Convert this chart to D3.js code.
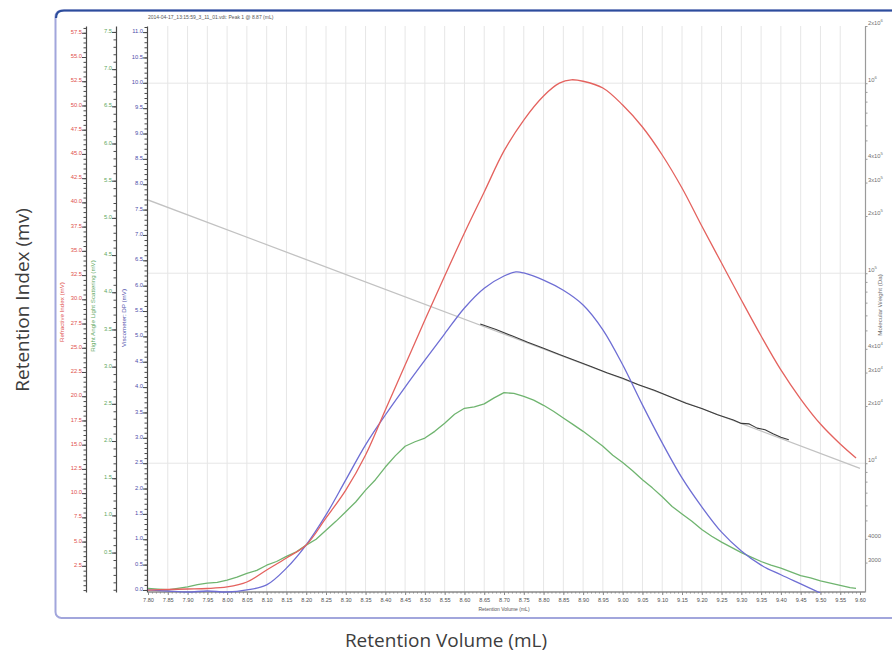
<!DOCTYPE html>
<html>
<head>
<meta charset="utf-8">
<script src="https://cdn.jsdelivr.net/npm/d3@7"></script>
<style>
  body { margin: 0; background: #ffffff; }
  svg { display: block; }
</style>
</head>
<body>
<svg id="chart" width="892" height="657"></svg>
<script>
// ---- Detector traces (retention volume in mL) ----
const riVolume = [7.80, 7.85, 7.90, 7.95, 8.00, 8.05, 8.10, 8.15, 8.20, 8.25, 8.30, 8.35, 8.40, 8.45, 8.50, 8.55, 8.60, 8.65, 8.70, 8.75, 8.80, 8.84, 8.87, 8.90, 8.95, 9.00, 9.05, 9.10, 9.15, 9.20, 9.25, 9.30, 9.35, 9.40, 9.45, 9.50, 9.55, 9.59];
const riSignal = [0.00, 0.06, 0.11, 0.16, 0.32, 0.83, 2.07, 3.31, 4.65, 7.44, 10.32, 13.94, 18.58, 23.22, 27.86, 32.40, 36.84, 41.08, 45.31, 48.50, 50.98, 52.30, 52.65, 52.50, 51.80, 50.05, 47.78, 44.89, 41.48, 37.56, 33.74, 29.93, 26.21, 22.71, 19.71, 17.13, 15.07, 13.63];

const dpVolume = [7.80, 7.85, 7.90, 7.95, 8.00, 8.05, 8.10, 8.15, 8.20, 8.25, 8.30, 8.35, 8.40, 8.45, 8.50, 8.55, 8.60, 8.65, 8.70, 8.73, 8.75, 8.80, 8.85, 8.90, 8.95, 9.00, 9.05, 9.10, 9.15, 9.20, 9.25, 9.30, 9.35, 9.40, 9.45, 9.50];
const dpSignal = [0.00, -0.02, -0.04, -0.02, -0.04, 0.00, 0.10, 0.43, 0.89, 1.48, 2.17, 2.86, 3.45, 4.00, 4.53, 5.05, 5.56, 5.95, 6.19, 6.27, 6.25, 6.11, 5.91, 5.62, 5.13, 4.44, 3.65, 2.90, 2.21, 1.64, 1.14, 0.77, 0.49, 0.30, 0.12, -0.06];

const ralsVolume = [7.80, 7.825, 7.85, 7.875, 7.90, 7.925, 7.95, 7.975, 8.00, 8.025, 8.05, 8.075, 8.10, 8.125, 8.15, 8.175, 8.20, 8.225, 8.25, 8.275, 8.30, 8.325, 8.35, 8.375, 8.40, 8.425, 8.45, 8.475, 8.50, 8.525, 8.55, 8.575, 8.60, 8.625, 8.65, 8.675, 8.70, 8.725, 8.75, 8.775, 8.80, 8.825, 8.85, 8.875, 8.90, 8.925, 8.95, 8.975, 9.00, 9.025, 9.05, 9.075, 9.10, 9.125, 9.15, 9.175, 9.20, 9.225, 9.25, 9.275, 9.30, 9.325, 9.35, 9.375, 9.40, 9.425, 9.45, 9.475, 9.50, 9.525, 9.55, 9.575, 9.59];
const ralsSignal = [0.02, 0.01, 0.00, 0.02, 0.04, 0.07, 0.09, 0.10, 0.13, 0.17, 0.22, 0.26, 0.33, 0.38, 0.45, 0.51, 0.60, 0.68, 0.80, 0.92, 1.05, 1.18, 1.34, 1.48, 1.65, 1.80, 1.93, 1.99, 2.04, 2.13, 2.24, 2.36, 2.44, 2.46, 2.50, 2.58, 2.65, 2.64, 2.60, 2.55, 2.48, 2.40, 2.31, 2.22, 2.13, 2.03, 1.93, 1.81, 1.71, 1.60, 1.48, 1.37, 1.25, 1.12, 1.02, 0.92, 0.81, 0.72, 0.64, 0.57, 0.50, 0.44, 0.38, 0.33, 0.29, 0.24, 0.19, 0.16, 0.12, 0.09, 0.06, 0.03, 0.02];

// Molecular weight: calibration fit across the run, measured slice values over the peak
const mwFitVolume = [7.80, 9.60];
const mwFitValue = [243000, 9400];
const mwVolume = [8.64, 8.68, 8.72, 8.76, 8.80, 8.84, 8.88, 8.92, 8.96, 9.00, 9.04, 9.08, 9.12, 9.16, 9.20, 9.24, 9.28, 9.30, 9.32, 9.34, 9.36, 9.38, 9.40, 9.42];
const mwValue = [54000, 50500, 46800, 43300, 40300, 37300, 34700, 32300, 29900, 28000, 25900, 24200, 22400, 20700, 19400, 18000, 16900, 16200, 16100, 15300, 15000, 14300, 13700, 13300];

// ---- Tick values and labels ----
const xTicks = [7.80, 7.85, 7.90, 7.95, 8.00, 8.05, 8.10, 8.15, 8.20, 8.25, 8.30, 8.35, 8.40, 8.45, 8.50, 8.55, 8.60, 8.65, 8.70, 8.75, 8.80, 8.85, 8.90, 8.95, 9.00, 9.05, 9.10, 9.15, 9.20, 9.25, 9.30, 9.35, 9.40, 9.45, 9.50, 9.55, 9.60];
const riTicks = [2.5, 5.0, 7.5, 10.0, 12.5, 15.0, 17.5, 20.0, 22.5, 25.0, 27.5, 30.0, 32.5, 35.0, 37.5, 40.0, 42.5, 45.0, 47.5, 50.0, 52.5, 55.0, 57.5];
const ralsTicks = [0.5, 1.0, 1.5, 2.0, 2.5, 3.0, 3.5, 4.0, 4.5, 5.0, 5.5, 6.0, 6.5, 7.0, 7.5];
const dpTicks = [0.0, 0.5, 1.0, 1.5, 2.0, 2.5, 3.0, 3.5, 4.0, 4.5, 5.0, 5.5, 6.0, 6.5, 7.0, 7.5, 8.0, 8.5, 9.0, 9.5, 10.0, 10.5, 11.0];
const mwTicks = [2e6, 1e6, 4e5, 3e5, 2e5, 1e5, 4e4, 3e4, 2e4, 1e4, 4000, 3000];
const mwTickBase = ["2x10", "10", "4x10", "3x10", "2x10", "10", "4x10", "3x10", "2x10", "10", "4000", "3000"];
const mwTickExp = ["6", "6", "5", "5", "5", "5", "4", "4", "4", "4", "", ""];
const mwGrid = [1e4, 1e5, 1e6];

const runTitle = "2014-04-17_13:15:59_3_11_01.vdt: Peak 1 @ 8.87 (mL)";

// ---- Layout ----
const svg = d3.select("#chart");
const plot = { left: 148, right: 865, top: 26, bottom: 592 };
const smallFont = "'Liberation Sans', Arial, sans-serif";
const C = {
  ri: "#e4625e", riText: "#e0504c",
  rals: "#6fb46f", ralsText: "#5ea85e",
  dp: "#6e6ed4", dpText: "#4e4eaa",
  mwLight: "#c2c2c2", mwDark: "#3a3a3a",
  axis: "#4a4a4a", grid: "#e6e6e6"
};

const x = d3.scaleLinear().domain([7.80, 9.60]).range([148, 860]);
const yRI = d3.scaleLinear().domain([-0.2, 58.2]).range([plot.bottom, plot.top]);
const yRALS = d3.scaleLinear().domain([-0.03, 7.58]).range([plot.bottom, plot.top]);
const yDP = d3.scaleLinear().domain([-0.04, 11.12]).range([plot.bottom, plot.top]);
const yMW = d3.scaleLog().domain([2100, 2e6]).range([plot.bottom, plot.top]);

// ---- Outer frame ----
svg.append("rect")
  .attr("x", 55.5).attr("y", 10.5).attr("width", 880).attr("height", 607.5)
  .attr("rx", 6).attr("fill", "none")
  .attr("stroke", "#a2a6dc").attr("stroke-width", 2);
svg.append("path")
  .attr("d", "M56,18 Q56,10.5 64,10.5 L892,10.5")
  .attr("fill", "none").attr("stroke", "#2c4d9c").attr("stroke-width", 2.2);

// ---- Grid ----
const grid = svg.append("g");
grid.selectAll("line.v").data(xTicks.slice(1, -1)).join("line")
  .attr("x1", d => x(d)).attr("x2", d => x(d))
  .attr("y1", plot.top).attr("y2", plot.bottom)
  .attr("stroke", C.grid).attr("stroke-width", 1);
grid.selectAll("line.h").data(mwGrid).join("line")
  .attr("x1", plot.left).attr("x2", plot.right)
  .attr("y1", d => yMW(d)).attr("y2", d => yMW(d))
  .attr("stroke", C.grid).attr("stroke-width", 1);

// ---- Left axes ----
function leftAxis(scale, xPos, ticks, minorStep, color, fmt) {
  const g = svg.append("g").attr("transform", `translate(${xPos},0)`);
  const [lo, hi] = scale.domain();
  const minor = d3.range(Math.ceil(lo / minorStep) * minorStep, hi, minorStep);
  g.call(d3.axisLeft(scale).tickValues(minor).tickSize(2.5).tickSizeOuter(0).tickFormat(""));
  g.call(gg => gg.select(".domain").attr("stroke", C.axis).attr("stroke-width", 1.2));
  g.selectAll(".tick line").attr("stroke", C.axis);
  const major = svg.append("g").attr("transform", `translate(${xPos},0)`)
    .call(d3.axisLeft(scale).tickValues(ticks).tickSize(4).tickSizeOuter(0).tickFormat(fmt));
  major.select(".domain").remove();
  major.selectAll(".tick line").attr("stroke", C.axis);
  major.selectAll(".tick text")
    .attr("fill", color).attr("font-family", smallFont).attr("font-size", 5.8)
    .attr("x", -4).attr("dy", "0.1em");
}
leftAxis(yRI, 86, riTicks, 0.5, C.riText, d3.format(".1f"));
leftAxis(yRALS, 116, ralsTicks, 0.1, C.ralsText, d3.format(".1f"));
leftAxis(yDP, 147, dpTicks, 0.1, C.dpText, d3.format(".1f"));

// ---- Right (log) axis ----
const rAxis = svg.append("g").attr("transform", `translate(${plot.right},0)`);
const mwMinor = [];
[1e3, 1e4, 1e5, 1e6].forEach(dec => [1, 2, 3, 4, 5, 6, 7, 8, 9].forEach(m => {
  const v = m * dec;
  if (v >= 2100 && v <= 2e6) mwMinor.push(v);
}));
rAxis.call(d3.axisRight(yMW).tickValues(mwMinor).tickSize(2.5).tickSizeOuter(0).tickFormat(""));
rAxis.select(".domain").attr("stroke", "#9a9a9a").attr("stroke-width", 1.2);
rAxis.selectAll(".tick line").attr("stroke", "#9a9a9a");
const rLabels = svg.append("g");
mwTicks.forEach((v, i) => {
  const t = rLabels.append("text")
    .attr("x", plot.right + 3).attr("y", yMW(v) - 1)
    .attr("font-family", smallFont).attr("font-size", 5.8).attr("fill", "#707070");
  t.append("tspan").text(mwTickBase[i]);
  if (mwTickExp[i]) t.append("tspan").attr("dy", -3).attr("font-size", 4.2).text(mwTickExp[i]);
});

// ---- Bottom axis ----
const bAxis = svg.append("g").attr("transform", `translate(0,${plot.bottom})`);
bAxis.call(d3.axisBottom(x).tickValues(d3.range(7.80, 9.605, 0.01)).tickSize(1.5).tickSizeOuter(0).tickFormat(""));
bAxis.select(".domain").remove();
bAxis.selectAll(".tick line").attr("stroke", "#8a8a8a");
const bMajor = svg.append("g").attr("transform", `translate(0,${plot.bottom})`)
  .call(d3.axisBottom(x).tickValues(xTicks).tickSize(3).tickSizeOuter(0).tickFormat(d3.format(".2f")));
bMajor.select(".domain").remove();
bMajor.selectAll(".tick line").attr("stroke", "#8a8a8a");
bMajor.selectAll(".tick text")
  .attr("font-family", smallFont).attr("font-size", 5.6).attr("fill", "#505050").attr("y", 6);
svg.append("line")
  .attr("x1", plot.left).attr("x2", plot.right)
  .attr("y1", plot.bottom).attr("y2", plot.bottom)
  .attr("stroke", "#8a8a8a").attr("stroke-width", 1.4);

// ---- Traces ----
svg.append("clipPath").attr("id", "plotClip").append("rect")
  .attr("x", plot.left).attr("y", plot.top)
  .attr("width", plot.right - plot.left).attr("height", plot.bottom - plot.top + 1);
const traces = svg.append("g").attr("clip-path", "url(#plotClip)");

function trace(xs, ys, yScale, color, width, curve) {
  const pts = xs.map((v, i) => [v, ys[i]]);
  traces.append("path").datum(pts)
    .attr("fill", "none").attr("stroke", color).attr("stroke-width", width)
    .attr("stroke-linejoin", "round")
    .attr("d", d3.line().x(d => x(d[0])).y(d => yScale(d[1])).curve(curve || d3.curveCatmullRom.alpha(0.5)));
}
trace(mwFitVolume, mwFitValue, yMW, C.mwLight, 1.3, d3.curveLinear);
trace(mwVolume, mwValue, yMW, C.mwDark, 1.1, d3.curveLinear);
trace(ralsVolume, ralsSignal, yRALS, C.rals, 1.3, d3.curveLinear);
trace(dpVolume, dpSignal, yDP, C.dp, 1.3);
trace(riVolume, riSignal, yRI, C.ri, 1.3);

// ---- Axis titles ----
function vTitle(text, xPos, yPos, color, size) {
  svg.append("text")
    .attr("transform", `translate(${xPos},${yPos}) rotate(-90)`)
    .attr("text-anchor", "middle")
    .attr("font-family", smallFont).attr("font-size", size).attr("fill", color)
    .text(text);
}
vTitle("Refractive Index (mV)", 64, 312, C.riText, 6.2);
vTitle("Right Angle Light Scattering (mV)", 95, 306, C.ralsText, 6.2);
vTitle("Viscometer: DP (mV)", 126, 318, C.dpText, 6.2);
vTitle("Molecular Weight (Da)", 882, 305, "#707070", 6.2);

svg.append("text")
  .attr("x", 148).attr("y", 19)
  .attr("font-family", smallFont).attr("font-size", 5).attr("fill", "#555")
  .text(runTitle);
svg.append("text")
  .attr("x", 504).attr("y", 611).attr("text-anchor", "middle")
  .attr("font-family", smallFont).attr("font-size", 5).attr("fill", "#555")
  .text("Retention Volume (mL)");

// ---- Slide labels ----
svg.append("text")
  .attr("transform", "translate(29,300) rotate(-90)")
  .attr("text-anchor", "middle")
  .attr("font-family", "'Open Sans', sans-serif").attr("font-size", 19).attr("fill", "#3d3d3d")
  .text("Retention Index (mv)");
svg.append("text")
  .attr("x", 446).attr("y", 647).attr("text-anchor", "middle")
  .attr("font-family", "'Open Sans', sans-serif").attr("font-size", 19).attr("fill", "#3d3d3d")
  .text("Retention Volume (mL)");
</script>
</body>
</html>
